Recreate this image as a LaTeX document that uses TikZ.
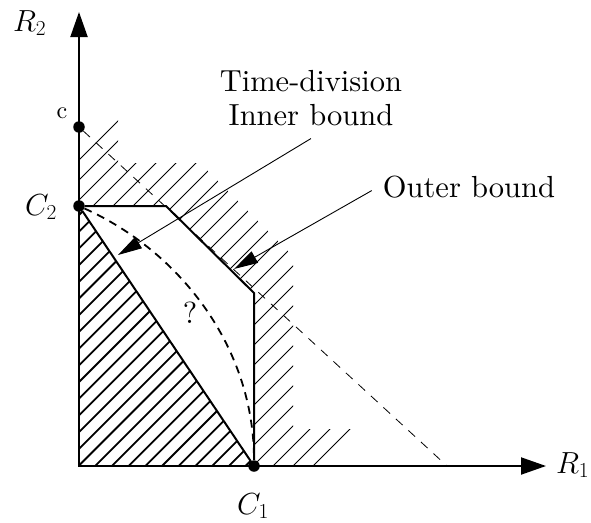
\RequirePackage{fix-cm}
\documentclass[tikz,border=0pt]{standalone}
\usepackage{fontspec}
\setmainfont{lmroman10-regular.otf}
\usetikzlibrary{arrows.meta}
\begin{document}
\begin{tikzpicture}[x=1pt,y=-1pt,
  font=\fontsize{30.5}{34}\selectfont,
  axis/.style={line width=2pt,line join=miter,{Triangle[length=25pt,width=17pt]}-{Triangle[length=25pt,width=17pt]}},
  bound/.style={line width=2pt,line join=miter},
  ptr/.style={line width=0.9pt,-{Triangle[length=24pt,width=13pt]}},
  dotnode/.style={circle,fill,inner sep=0pt,minimum size=11.5pt},
  lbl/.style={inner sep=0pt},
  thinhatch/.style={line width=0.8pt},
  thickhatch/.style={line width=1.8pt},
  thindash/.style={line width=0.8pt,dash pattern=on 9pt off 8pt},
  thickdash/.style={line width=1.8pt,dash pattern=on 8pt off 6pt},
]
\useasboundingbox (0,0) rectangle (591,522);

% coordinates
\coordinate (O) at (79,466);
\coordinate (ytip) at (79,12);
\coordinate (xtip) at (546,466);
\coordinate (ob1) at (166,206);
\coordinate (ob2) at (254,293);
\coordinate (dashend) at (447,466);
\coordinate (itip) at (118,255);
\coordinate (otip) at (234,269);

% outer hatch
\begin{scope}
  \clip (79,206) -- (79,157) -- (118,118) -- (118,163) -- (200,163) -- (293,256)
        -- (293,429) -- (352,429) -- (314,467) -- (254,466) -- (254,293) -- (166,206) -- cycle;
  \foreach \s in {239,259,...,779} \draw[thinhatch] (\s-600,600) -- (\s,0);
\end{scope}

% inner (thick) hatch
\begin{scope}
  \clip (79,466) -- (79,206) -- (254,466) -- cycle;
  \foreach \n in {0,...,26} \draw[thickhatch] ({294+16.7*\n-600},600) -- ({294+16.7*\n},0);
\end{scope}

% dots
\node[dotnode] (cdot) at (79,127) {};
\node[dotnode] (C2) at (79,206) {};
\node[dotnode] (C1) at (254,466) {};

% axes
\draw[axis] (ytip) -- (O) -- (xtip);

% thin dashed line
\draw[thindash] (cdot) -- (dashend);

% bounds
\draw[bound] (C2) -- (ob1) -- (ob2) -- (C1);
\draw[bound] (C2) -- (C1);
\draw[thickdash] (C2) .. controls (179,251) and (254,346) .. (C1);

% labels
\node[lbl,anchor=base west] (R2) at (13,31) {$R_2$};
\node[lbl,anchor=base west] (R1) at (556,473) {$R_1$};
\node[lbl,anchor=base west] (C2l) at (25,215) {$C_2$};
\node[lbl,anchor=base west] (C1l) at (237,514) {$C_1$};
\node[lbl,anchor=base,font=\fontsize{24}{28}\selectfont] (cl) at (62,118) {c};
\node[lbl,anchor=base] (q) at (190,323) {?};
\node[lbl,anchor=base] (tdA) at (311,91) {Time-division};
\node[lbl,anchor=base] (tdB) at (311,125) {Inner bound};
\node[lbl,anchor=base] (ob) at (469,197) {Outer bound};

% pointers
\draw[ptr] ([yshift=-13pt]tdB.south) -- (itip);
\draw[ptr] ([xshift=-11pt,yshift=-4pt]ob.west) -- (otip);
\end{tikzpicture}
\end{document}
